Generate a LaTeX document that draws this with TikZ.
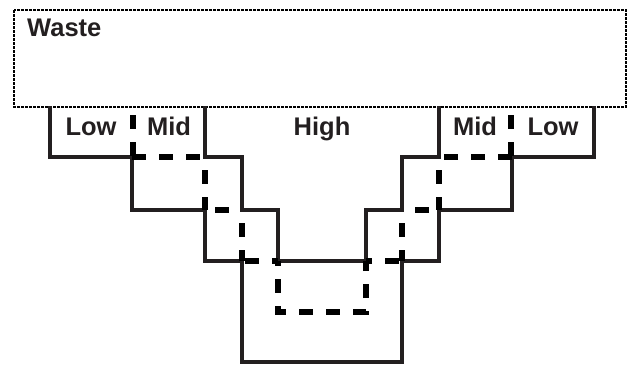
\documentclass[tikz,border=0pt]{standalone}
\usepackage{fontspec}
\setmainfont{Liberation Sans}
\definecolor{ink}{HTML}{231F20}
\begin{document}
\begin{tikzpicture}[x=1pt,y=-1pt,
  solidline/.style={draw=ink,line width=3.6pt,line cap=rect,line join=miter},
  thickdash/.style={draw=black,line width=5.2pt,dash pattern=on 14pt off 13pt},
  wasteline/.style={draw=black,line width=1.8pt,dash pattern=on 3pt off 1pt},
  lbl/.style={text=ink,font=\fontsize{25.5}{30}\selectfont\bfseries,inner sep=0pt,anchor=base}]
\useasboundingbox (0,0) rectangle (628,365);
% waste box
\draw[wasteline] (14,10) rectangle (626,107);
\node[lbl,anchor=base west] (waste) at (27,36) {Waste};
% mirrored step outlines
\foreach \s/\sh in {1/0,-1/644}{
\begin{scope}[xshift=\sh pt,xscale=\s]
  \draw[solidline] (50,108) -- (50,157) -- (132,157) -- (132,210) -- (205,210) -- (205,261) -- (242,261) -- (242,362) -- (322,362);
  \draw[solidline] (205,108) -- (205,157) -- (242,157) -- (242,210) -- (278,210) -- (278,261) -- (322,261);
  \draw[thickdash,dash phase=20pt] (133,108) -- (133,157);
  \draw[thickdash] (132,157) -- (205,157);
  \draw[thickdash,dash phase=14pt] (205,157) -- (205,210);
  \draw[thickdash,dash phase=17pt] (205,210) -- (242,210);
  \draw[thickdash,dash phase=14pt] (242,210) -- (242,261);
  \draw[thickdash,dash phase=24pt] (242,261) -- (278,261);
\end{scope}}
\draw[thickdash,dash phase=9pt] (278,261) -- (278,312) -- (366,312) -- (366,261);
% labels
\node[lbl] (low1) at (91,135) {Low};
\node[lbl] (mid1) at (169,135) {Mid};
\node[lbl] (high) at (322,135) {High};
\node[lbl] (mid2) at (475,135) {Mid};
\node[lbl] (low2) at (553,135) {Low};
\end{tikzpicture}
\end{document}
